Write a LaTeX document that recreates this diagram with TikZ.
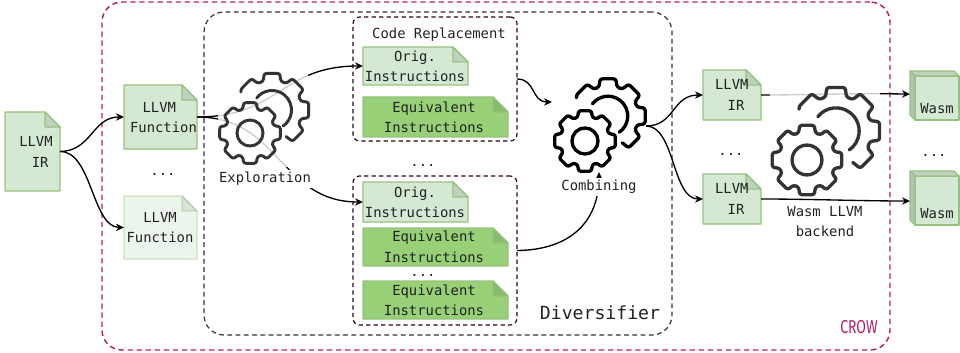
\documentclass[tikz,border=0pt]{standalone}
\usepackage{graphicx}
\usepackage{fontspec}
\setmainfont{Fira Sans}
\setmonofont{DejaVu Sans Mono}
\usetikzlibrary{arrows.meta}
\definecolor{crowc}{HTML}{B0206A}
\definecolor{codec}{HTML}{33001A}
\definecolor{divc}{HTML}{333333}
\definecolor{lg}{HTML}{D5E8D4}
\definecolor{lgd}{HTML}{C0D1BF}
\definecolor{eq}{HTML}{97D077}
\definecolor{eqd}{HTML}{88BB6B}
\definecolor{st}{HTML}{97C27E}
\definecolor{txt}{HTML}{222222}
\tikzset{
  x=0.75pt,y=-0.75pt,
  base/.style={inner sep=0,outer sep=0},
  lbl/.style={font=\ttfamily\fontsize{10.4}{15.4}\selectfont,text=txt,align=center,inner sep=0},
  lblbg/.style={lbl,fill=white,inner xsep=2pt,inner ysep=2pt},
  crowbox/.style={draw=crowc,line width=1.1pt,dash pattern=on 4pt off 2.8pt,rounded corners=15pt},
  divbox/.style={draw=divc,line width=.9pt,dash pattern=on 3.6pt off 2.6pt,rounded corners=15pt},
  codebox/.style={draw=codec,line width=.9pt,dash pattern=on 3.2pt off 2.4pt,rounded corners=5pt},
  conn/.style={draw=black,line width=1pt,-{Stealth[length=6pt,width=5.5pt]}},
  gearline/.style={line join=round,line cap=round,rounded corners=1.8pt},
}
% note document: name, x1, y1, x2, y2, fill, fold fill, opacity
\newcommand{\docnote}[8]{%
  \node[base,minimum width={(#4-#2)*0.75pt},minimum height={(#5-#3)*0.75pt}] (#1) at ({(#2+#4)/2},{(#3+#5)/2}) {};
  \begin{scope}[opacity=#8]
  \filldraw[fill=#6,draw=st,line width=1pt,line join=round] (#2,#3) -- ({#4-15},#3) -- (#4,{#3+15}) -- (#4,#5) -- (#2,#5) -- cycle;
  \filldraw[fill=#7,draw=st,line width=1pt,line join=round] ({#4-15},#3) -- ({#4-15},{#3+15}) -- (#4,{#3+15}) -- cycle;
  \end{scope}
}
% cube: name, x1, y1, x2, y2
\newcommand{\wasmcube}[5]{%
  \node[base,minimum width={(#4-#2)*0.75pt},minimum height={(#5-#3)*0.75pt}] (#1) at ({(#2+#4)/2},{(#3+#5)/2}) {};
  \filldraw[fill=lg,draw=st,line width=1pt,line join=round] ({#2+5},{#3+5}) rectangle (#4,#5);
  \filldraw[fill=lgd,draw=st,line width=1pt,line join=round] (#2,#3) -- ({#4-5},#3) -- (#4,{#3+5}) -- ({#2+5},{#3+5}) -- cycle;
  \filldraw[fill=lgd!80!black!30!lgd,draw=st,line width=1pt,line join=round] (#2,#3) -- ({#2+5},{#3+5}) -- ({#2+5},#5) -- (#2,{#5-5}) -- cycle;
}
\newcommand{\pp}[4]{({#1+#3*cos(#4)},{#2-#3*sin(#4)})}
% big gear: cx cy R colour width
\newcommand{\biggear}[5]{%
  \draw[gearline,draw=#4,line width=#5]
    \pp{#1}{#2}{#3*0.97}{149} -- \pp{#1}{#2}{#3}{147} -- \pp{#1}{#2}{#3}{123} -- \pp{#1}{#2}{#3*.8}{118}
    \foreach \a in {90,45,0,-45}{ -- \pp{#1}{#2}{#3*.8}{\a+17} -- \pp{#1}{#2}{#3}{\a+12} -- \pp{#1}{#2}{#3}{\a-12} -- \pp{#1}{#2}{#3*.8}{\a-17} };
  \draw[draw=#4,line width=#5,line cap=round] \pp{#1}{#2}{#3*.52}{142} arc[start angle=-142,end angle=55,radius=#3*.52];
}
% small gear: cx cy R colour width
\newcommand{\smallgear}[5]{%
  \draw[gearline,draw=#4,line width=#5]
    \pp{#1}{#2}{#3*.8}{17} -- \pp{#1}{#2}{#3}{12} -- \pp{#1}{#2}{#3}{-12} -- \pp{#1}{#2}{#3*.8}{-17}
    \foreach \a in {-45,-90,-135,-180,-225,-270,-315}{ -- \pp{#1}{#2}{#3*.8}{\a+17} -- \pp{#1}{#2}{#3}{\a+12} -- \pp{#1}{#2}{#3}{\a-12} -- \pp{#1}{#2}{#3*.8}{\a-17} } -- cycle;
  \draw[draw=#4,line width=#5] (#1,#2) circle[radius=#3*.42];
}
\begin{document}
\begin{tikzpicture}
\useasboundingbox (0,0) rectangle (960,353);
% containers
\node[base,crowbox,minimum width=591pt,minimum height=261pt] (crow) at (496,176) {};
\node[base,divbox,minimum width=351pt,minimum height=242.25pt] (div) at (438,173.5) {};
\node[base,codebox,minimum width=123pt,minimum height=93pt] (code1) at (435,79) {};
\node[base,codebox,minimum width=123pt,minimum height=111.75pt] (code2) at (435,250.5) {};
% documents
\docnote{ir}{5}{112}{60}{191}{lg}{lgd}{1}
\docnote{f1}{124}{85}{197}{149}{lg}{lgd}{1}
\docnote{f2}{124}{196}{197}{259}{lg}{lgd}{.45}
\docnote{o1}{363}{47}{468}{85}{lg}{lgd}{1}
\docnote{e1}{363}{97}{508}{137}{eq}{eqd}{1}
\docnote{o2}{363}{182}{468}{222}{lg}{lgd}{1}
\docnote{e2}{363}{228}{508}{266}{eq}{eqd}{1}
\docnote{e3}{363}{281}{508}{319}{eq}{eqd}{1}
\docnote{ira}{703}{70}{761}{120}{lg}{lgd}{1}
\docnote{irb}{703}{174}{761}{224}{lg}{lgd}{1}
\wasmcube{w1}{910}{71}{959}{120}
\wasmcube{w2}{910}{171}{959}{225}
% free connector ends
\coordinate (combin) at (552,102);
\coordinate (combout) at (646,126);
\coordinate (combbot) at (599,172);
% connectors
\draw[conn] (ir.east) .. controls (92,151) and (92,117) .. (f1.west);
\draw[conn] (ir.east) .. controls (92,151) and (92,227) .. (f2.west);
\draw[conn] (f1.east) .. controls (280,117) and (280,66) .. (o1.west);
\draw[conn] (f1.east) .. controls (280,117) and (280,202) .. (o2.west);
\draw[conn] (code1.east) .. controls (536,79) and (531,102) .. (combin);
\draw[conn] (code2.east) .. controls (570,250) and (599,222) .. (combbot);
\draw[conn] (combout) .. controls (675,126) and (672,95) .. (ira.west);
\draw[conn] (combout) .. controls (675,126) and (672,199) .. (irb.west);
\draw[conn] (ira.east) .. controls (810,95) and (860,93) .. ([yshift=1pt]w1.west);
\draw[conn] (irb.east) .. controls (810,199) and (860,201) .. ([yshift=-2.25pt]w2.west);
% gears with translucent backing
\fill[white,opacity=.8] (218,70) rectangle (308,167);
\fill[white,opacity=.8] (770,87) rectangle (880,130);
\biggear{272}{110}{37.5}{divc}{2.2pt}
\smallgear{250}{133}{31}{divc}{2.2pt}
\biggear{608}{116}{38}{black}{2.5pt}
\smallgear{585}{141}{31}{black}{2.5pt}
\biggear{836}{131}{44.5}{divc}{2.5pt}
\smallgear{807}{160}{35.5}{divc}{2.5pt}
% labels
\node[lbl] (t1) at (36,152) {LLVM\\\hspace*{.6em}IR};
\node[lbl] (t2) at (163.5,117.5) {LLVM\hspace*{.6em}\\Function};
\node[lbl] (t3) at (160,227.5) {LLVM\\Function};
\node[lbl] (t4) at (163,174) {...};
\node[lblbg] (t5) at (265,179) {Exploration};
\node[lbl] (t6) at (439,35) {Code Replacement};
\node[lbl] (t7) at (415,66.5) {Orig.\\Instructions};
\node[lbl] (t8) at (434,117.5) {Equivalent\\Instructions};
\node[lbl] (t9) at (423,165) {...};
\node[lbl] (t10) at (415,202.5) {Orig.\\Instructions};
\node[lbl] (t11) at (434,247) {Equivalent\\Instructions};
\node[lbl] (t12) at (423,275.5) {...};
\node[lbl] (t13) at (434,300.5) {Equivalent\\Instructions};
\node[lblbg] (t14) at (599,187) {Combining};
\node[lbl,font=\ttfamily\fontsize{13.6}{16}\selectfont] (t15) at (600,313) {Diversifier};
\node[lbl] (t16) at (736,95) {LLVM\hspace*{.6em}\\IR};
\node[lbl] (t17) at (736,199) {LLVM\hspace*{.6em}\\IR};
\node[lbl] (t18) at (731,154) {...};
\node[lbl] (t19) at (825,221.5) {Wasm LLVM\\backend};
\node[lbl] (t20) at (937,109) {Wasm};
\node[lbl] (t21) at (937,214) {Wasm};
\node[lbl] (t22) at (934,155) {...};
\node[font=\fontsize{14}{16}\selectfont,text=crowc,inner sep=0] (t23) at (859,327) {\scalebox{.75}[1]{CROW}};
\end{tikzpicture}
\end{document}
